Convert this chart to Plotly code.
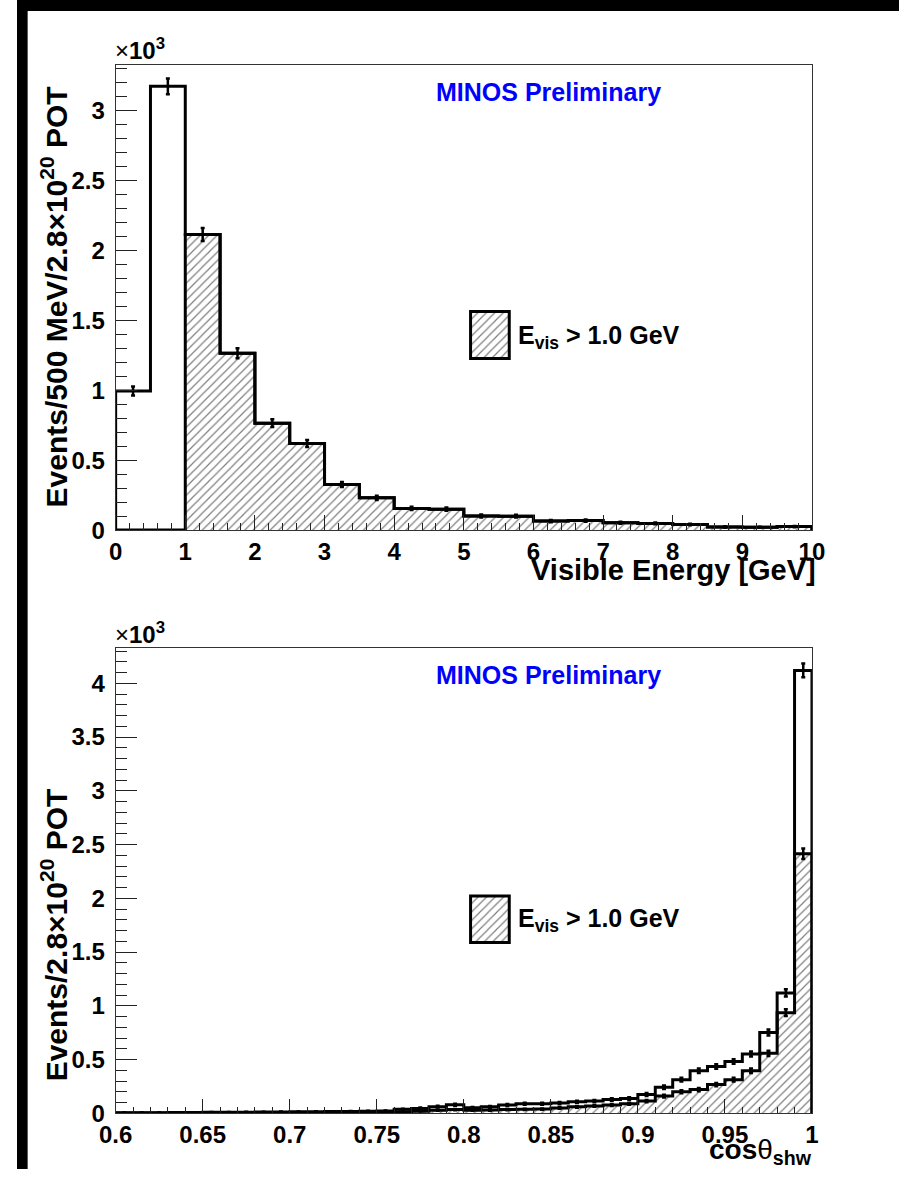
import plotly.graph_objects as go

# ---------------- data ----------------
# Top panel: visible energy, 0.5 GeV bins from 0 to 10 GeV
energy_edges = [0.0, 0.5, 1.0, 1.5, 2.0, 2.5, 3.0, 3.5, 4.0, 4.5, 5.0,
                5.5, 6.0, 6.5, 7.0, 7.5, 8.0, 8.5, 9.0, 9.5, 10.0]
energy_all = [995, 3175, 2115, 1265, 765, 620, 326, 231, 155, 150,
              101, 100, 65, 68, 52, 48, 40, 22, 20, 25]
energy_all_err = [32, 56, 46, 36, 28, 25, 18, 15, 12, 12,
                  10, 10, 8, 8, 7, 7, 6, 5, 4, 5]
energy_cut = [0, 0, 2115, 1265, 765, 620, 326, 231, 155, 150,
              101, 100, 65, 68, 52, 48, 40, 22, 20, 25]

# Bottom panel: cos(theta_shw), 0.01 bins from 0.6 to 1.0
cos_edges = [0.60, 0.61, 0.62, 0.63, 0.64, 0.65, 0.66, 0.67, 0.68, 0.69,
             0.70, 0.71, 0.72, 0.73, 0.74, 0.75, 0.76, 0.77, 0.78, 0.79,
             0.80, 0.81, 0.82, 0.83, 0.84, 0.85, 0.86, 0.87, 0.88, 0.89,
             0.90, 0.91, 0.92, 0.93, 0.94, 0.95, 0.96, 0.97, 0.98, 0.99, 1.00]
cos_all = [5, 6, 6, 7, 8, 9, 10, 11, 12, 13,
           14, 15, 16, 17, 19, 21, 37, 46, 62, 80,
           52, 60, 77, 89, 89, 95, 108, 114, 129, 138,
           175, 243, 313, 396, 436, 482, 552, 752, 1120, 4120]
cos_all_err = [2, 2, 2, 3, 3, 3, 3, 3, 3, 4,
               4, 4, 4, 4, 4, 5, 6, 7, 8, 9,
               7, 8, 9, 9, 9, 10, 10, 11, 11, 12,
               13, 16, 18, 20, 21, 22, 23, 27, 33, 64]
cos_cut = [2, 2, 3, 3, 3, 4, 4, 5, 5, 6,
           6, 7, 7, 8, 9, 10, 15, 20, 28, 35,
           28, 30, 35, 37, 40, 50, 60, 68, 77, 89,
           114, 160, 200, 221, 267, 313, 396, 558, 936, 2414]
cos_cut_err = [1, 1, 2, 2, 2, 2, 2, 2, 2, 2,
               2, 3, 3, 3, 3, 3, 4, 4, 5, 6,
               5, 5, 6, 6, 6, 7, 8, 8, 9, 9,
               11, 13, 14, 15, 16, 18, 20, 24, 31, 49]

energy_ticks = [0, 1, 2, 3, 4, 5, 6, 7, 8, 9, 10]
cos_ticks = [0.6, 0.65, 0.7, 0.75, 0.8, 0.85, 0.9, 0.95, 1.0]
cos_ticktext = ["0.6", "0.65", "0.7", "0.75", "0.8", "0.85", "0.9", "0.95", "1"]

# ---------------- helpers ----------------
W, H = 912, 1182
FONT = "Liberation Sans"
SCALE = 1000.0


def px(x):
    return x / W


def py(y):
    return 1 - y / H


def centers(edges):
    return [(a + b) / 2 for a, b in zip(edges[:-1], edges[1:])]


def widths(edges):
    return [b - a for a, b in zip(edges[:-1], edges[1:])]


def scaled(vals):
    return [x / SCALE for x in vals]


def step_xy(edges, vals):
    v = scaled(vals)
    xs = [edges[0]] + list(edges) + [edges[-1]]
    ys = [0] + v + [v[-1], 0]
    return xs, ys


HATCH = dict(shape="/", fgcolor="black", bgcolor="white", size=6, solidity=0.2)

fig = go.Figure()


def add_hist(edges, vals, errs, xa, ya, hatched):
    if hatched:
        fig.add_trace(go.Bar(
            x=centers(edges), y=scaled(vals), width=widths(edges),
            xaxis=xa, yaxis=ya, showlegend=False, hoverinfo="skip",
            marker=dict(color="white", line=dict(width=0), pattern=HATCH),
        ))
    sx, sy = step_xy(edges, vals)
    fig.add_trace(go.Scatter(
        x=sx, y=sy, mode="lines", line=dict(color="black", width=3, shape="hv"),
        xaxis=xa, yaxis=ya, showlegend=False, hoverinfo="skip",
    ))
    if errs is not None:
        fig.add_trace(go.Scatter(
            x=centers(edges), y=scaled(vals), mode="markers",
            marker=dict(size=2, color="black"),
            error_y=dict(type="data", array=scaled(errs), color="black",
                         thickness=2.5, width=2),
            xaxis=xa, yaxis=ya, showlegend=False, hoverinfo="skip",
        ))


# Top panel
add_hist(energy_edges, energy_cut, None, "x", "y", True)
add_hist(energy_edges, energy_all, energy_all_err, "x", "y", False)

# Bottom panel
add_hist(cos_edges, cos_cut, cos_cut_err, "x2", "y2", True)
add_hist(cos_edges, cos_all, cos_all_err, "x2", "y2", False)

# Legend hatch boxes (auxiliary axes)
for xa, ya in (("x3", "y3"), ("x4", "y4")):
    fig.add_trace(go.Bar(
        x=[0], y=[1], width=[1], xaxis=xa, yaxis=ya, showlegend=False,
        hoverinfo="skip",
        marker=dict(color="white", line=dict(width=0), pattern=HATCH),
    ))

# ---------------- layout ----------------
top_dom_y = [py(536), py(66)]
bot_dom_y = [py(1125.7), py(655.7)]
dom_x = [px(102), px(822)]

tickfont = dict(family=FONT, size=24, color="black", weight="bold")


def yaxis_cfg(dom, rng, anchor):
    return dict(domain=dom, range=rng, anchor=anchor, showgrid=False, zeroline=False,
                showline=True, mirror=True, linecolor="#333333", linewidth=1,
                ticks="inside", ticklen=21, tickwidth=1, tickcolor="#222222",
                dtick=0.5, tick0=0, tickfont=tickfont, ticklabelstandoff=5,
                minor=dict(dtick=0.1, ticks="inside", ticklen=11, tickwidth=1,
                           tickcolor="#222222", showgrid=False))


layout = dict(
    width=W, height=H,
    margin=dict(l=0, r=0, t=0, b=0),
    paper_bgcolor="white", plot_bgcolor="white",
    barmode="overlay", bargap=0,
    showlegend=False,
    xaxis=dict(domain=dom_x, range=[0, 10], anchor="y", showgrid=False, zeroline=False,
               showline=True, mirror=True, linecolor="#333333", linewidth=1,
               ticks="inside", ticklen=15, tickwidth=1, tickcolor="#222222",
               tickvals=energy_ticks, tickfont=tickfont, ticklabelstandoff=0,
               minor=dict(dtick=0.2, tick0=0, ticks="inside", ticklen=7, tickwidth=1,
                          tickcolor="#222222", showgrid=False)),
    yaxis=yaxis_cfg(top_dom_y, [0, 3.326], "x"),
    xaxis2=dict(domain=dom_x, range=[0.6, 1.0], anchor="y2", showgrid=False, zeroline=False,
                showline=True, mirror=True, linecolor="#333333", linewidth=1,
                ticks="inside", ticklen=14, tickwidth=1, tickcolor="#222222",
                tickvals=cos_ticks, ticktext=cos_ticktext, tickfont=tickfont,
                ticklabelstandoff=0,
                minor=dict(dtick=0.01, tick0=0.6, ticks="inside", ticklen=6, tickwidth=1,
                           tickcolor="#222222", showgrid=False)),
    yaxis2=yaxis_cfg(bot_dom_y, [0, 4.324], "x2"),
    xaxis3=dict(domain=[px(469), px(509)], range=[-0.5, 0.5], anchor="y3", visible=False),
    yaxis3=dict(domain=[py(362.5), py(315)], range=[0, 1], anchor="x3", visible=False),
    xaxis4=dict(domain=[px(469), px(509)], range=[-0.5, 0.5], anchor="y4", visible=False),
    yaxis4=dict(domain=[py(953), py(906)], range=[0, 1], anchor="x4", visible=False),
)
fig.update_layout(**layout)

shapes = [
    # black borders of the original image
    dict(type="rect", xref="paper", yref="paper", x0=0, x1=px(11), y0=0, y1=1,
         fillcolor="black", line=dict(width=0), layer="above"),
    dict(type="rect", xref="paper", yref="paper", x0=0, x1=1, y0=py(11), y1=1,
         fillcolor="black", line=dict(width=0), layer="above"),
    # legend box outlines
    dict(type="rect", xref="paper", yref="paper", x0=px(469), x1=px(509),
         y0=py(362.5), y1=py(315), line=dict(color="black", width=3)),
    dict(type="rect", xref="paper", yref="paper", x0=px(469), x1=px(509),
         y0=py(953), y1=py(906), line=dict(color="black", width=3)),
]
fig.update_layout(shapes=shapes)

ann = []
for off in (0.0, 589.7):
    ann.append(dict(text="×<b>10<sup>3</sup></b>", x=px(99), y=py(50 + off),
                    xref="paper", yref="paper", xanchor="left", yanchor="middle",
                    showarrow=False, font=dict(family=FONT, size=24, color="black")))
    ann.append(dict(text="MINOS Preliminary", x=px(431), y=py(93 + off),
                    xref="paper", yref="paper", xanchor="left", yanchor="middle",
                    showarrow=False,
                    font=dict(family=FONT, size=25, color="#0000ff", weight="bold")))
    ann.append(dict(text="E<sub>vis</sub> &gt; 1.0 GeV", x=px(516), y=py(341 + off),
                    xref="paper", yref="paper", xanchor="left", yanchor="middle",
                    showarrow=False,
                    font=dict(family=FONT, size=25, color="black", weight="bold")))

ann.append(dict(text="Events/500 MeV/2.8×10<sup>20</sup> POT", x=px(38), y=py(300),
                xref="paper", yref="paper", xanchor="center", yanchor="middle",
                textangle=-90, showarrow=False,
                font=dict(family=FONT, size=30, color="black", weight="bold")))
ann.append(dict(text="Events/2.8×10<sup>20</sup> POT", x=px(38), y=py(945),
                xref="paper", yref="paper", xanchor="center", yanchor="middle",
                textangle=-90, showarrow=False,
                font=dict(family=FONT, size=30, color="black", weight="bold")))
ann.append(dict(text="Visible Energy [GeV]", x=px(828), y=py(576),
                xref="paper", yref="paper", xanchor="right", yanchor="middle",
                showarrow=False,
                font=dict(family=FONT, size=29, color="black", weight="bold")))
ann.append(dict(text="cos<span style='font-weight:normal'>θ</span><sub>shw</sub>",
                x=px(824), y=py(1164),
                xref="paper", yref="paper", xanchor="right", yanchor="middle",
                showarrow=False,
                font=dict(family=FONT, size=28, color="black", weight="bold")))
fig.update_layout(annotations=ann)

fig.write_html("out.html")
